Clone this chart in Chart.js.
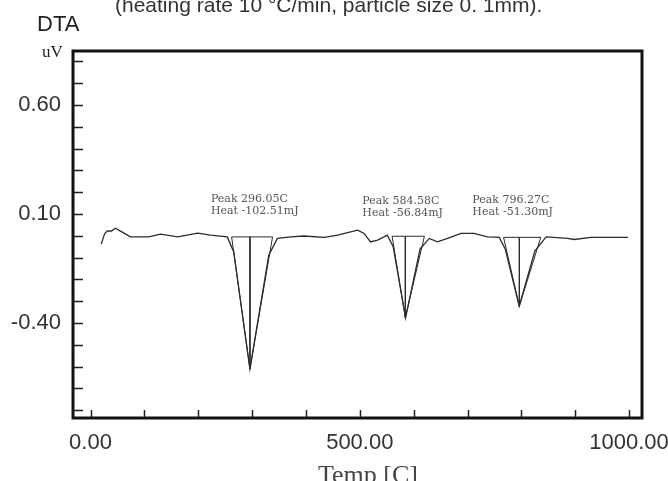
<!DOCTYPE html>
<html lang="en">

<head>
    <meta charset="UTF-8">
    <title>DTA</title>
    <script src="https://cdn.jsdelivr.net/npm/chart.js"></script>
    <style>
        body { margin: 0; background: #ffffff; }
        #box { width: 668px; height: 481px; }
    </style>
</head>

<body>
    <div id="box">
        <canvas id="grafico-dta" width="668" height="481"></canvas>
    </div>
</body>

</html>

<script>

    // DTA trace
    const tempC = [20, 26, 31, 39, 46, 59, 74, 108, 130, 162, 199, 223, 254, 266, 296, 331, 347, 372, 396, 434,
        459, 483, 496, 508, 520, 533, 545, 551, 562, 585, 612, 629, 644, 663, 688, 712, 737, 759, 770, 796,
        825, 846, 886, 898, 929, 998];
    const dta = [-0.038, 0.008, 0.023, 0.022, 0.035, 0.017, -0.005, -0.005, 0.008, -0.005, 0.012, 0.003, -0.005, -0.074, -0.611, -0.089, -0.012, -0.005, -0.001, -0.007,
        0.003, 0.018, 0.026, 0.011, -0.028, -0.020, -0.005, 0.003, -0.050, -0.376, -0.060, -0.012, -0.028, -0.012, 0.011, 0.011, -0.005, -0.007, -0.060, -0.323,
        -0.070, -0.005, -0.012, -0.017, -0.007, -0.007];

    // peaks found by the analysis
    const peakTemp = [296.05, 584.58, 796.27];
    const peakHeat = [-102.51, -56.84, -51.30];
    const peakMin = [-0.611, -0.376, -0.323];
    const peakStart = [262, 560, 767];
    const peakEnd = [338, 620, 836];
    const peakBase = [-0.005, -0.002, -0.007];

    // axes
    const xTicks = [0, 100, 200, 300, 400, 500, 600, 700, 800, 900, 1000];
    const xLabels = [0, 500, 1000];
    const yTicks = [-0.8, -0.7, -0.6, -0.5, -0.4, -0.3, -0.2, -0.1, 0, 0.1, 0.2, 0.3, 0.4, 0.5, 0.6, 0.7, 0.8];
    const yLabels = [0.6, 0.1, -0.4];

    const corLinha = '#2b2b2b';
    const labelDx = [-39, -43, -47];
    const labelDy = [-38, -35, -37];

    let datasets = [{
        label: 'DTA',
        data: tempC.map((t, i) => ({ x: t, y: dta[i] })),
        borderColor: corLinha,
        borderWidth: 1.3,
        pointRadius: 0,
        tension: 0
    }];

    // integration lines for each peak
    peakTemp.forEach((t, i) => {
        datasets.push({
            label: 'area ' + i,
            data: [
                { x: peakStart[i], y: peakBase[i] },
                { x: t, y: peakMin[i] },
                { x: peakEnd[i], y: peakBase[i] },
                { x: peakStart[i], y: peakBase[i] }
            ],
            borderColor: corLinha,
            borderWidth: 1,
            pointRadius: 0,
            tension: 0
        });
        datasets.push({
            label: 'peak ' + i,
            data: [{ x: t, y: peakBase[i] }, { x: t, y: peakMin[i] }],
            borderColor: corLinha,
            borderWidth: 1,
            pointRadius: 0
        });
    });

    const perto = (a, lista) => lista.some(v => Math.abs(v - a) < 1e-6);

    // frame, inward tick marks and the loose texts
    const moldura = {
        id: 'moldura',
        afterDraw(chart) {
            const ctx = chart.ctx;
            const a = chart.chartArea;
            const xs = chart.scales.x;
            const ys = chart.scales.y;
            ctx.save();

            ctx.strokeStyle = '#222';
            ctx.lineWidth = 1.5;
            ctx.beginPath();
            yTicks.forEach(v => {
                const y = Math.round(ys.getPixelForValue(v)) + 0.5;
                ctx.moveTo(a.left, y);
                ctx.lineTo(a.left + 10, y);
            });
            xTicks.forEach(v => {
                const x = Math.round(xs.getPixelForValue(v)) + 0.5;
                ctx.moveTo(x, a.bottom);
                ctx.lineTo(x, a.bottom - 8);
            });
            ctx.stroke();

            ctx.strokeStyle = '#111';
            ctx.lineWidth = 3;
            ctx.strokeRect(a.left, a.top, a.right - a.left, a.bottom - a.top);

            // peak notes
            ctx.fillStyle = '#555';
            ctx.font = '11px "DejaVu Serif"';
            ctx.textBaseline = 'middle';
            ctx.textAlign = 'left';
            peakTemp.forEach((t, i) => {
                const x = xs.getPixelForValue(t) + labelDx[i];
                const y = ys.getPixelForValue(peakBase[i]) + labelDy[i];
                ctx.fillText('Peak ' + t.toFixed(2) + 'C', x, y);
                ctx.fillText('Heat ' + peakHeat[i].toFixed(2) + 'mJ', x, y + 12);
            });

            ctx.fillStyle = '#222';
            ctx.font = '22px "Liberation Sans"';
            ctx.textBaseline = 'alphabetic';
            ctx.fillText('DTA', 37, 31);
            ctx.font = '17px "Liberation Serif"';
            ctx.fillText('uV', 42, 57);

            ctx.fillStyle = '#333';
            ctx.font = '21px "Liberation Sans"';
            ctx.fillText('(heating rate 10 °C/min, particle size 0. 1mm).', 115, 12);

            // axis title
            ctx.fillStyle = '#444';
            ctx.font = '26px "Liberation Serif"';
            ctx.textAlign = 'center';
            ctx.fillText('Temp [C]', 368, 483);
            ctx.restore();
        }
    };

    new Chart(document.getElementById('grafico-dta'), {
        type: 'line',
        data: { datasets: datasets },
        options: {
            responsive: false,
            animation: false,
            layout: { padding: { left: 0, top: 51, right: 26, bottom: 0 } },
            plugins: {
                legend: { display: false },
                tooltip: { enabled: false }
            },
            scales: {
                x: {
                    type: 'linear',
                    min: -32.5,
                    max: 1024,
                    grid: { display: false, drawTicks: false },
                    border: { display: false },
                    afterBuildTicks: s => { s.ticks = xTicks.map(v => ({ value: v })); },
                    afterFit: s => { s.height = 63; s.paddingLeft = 0; s.paddingRight = 0; },
                    ticks: {
                        autoSkip: false,
                        maxRotation: 0,
                        padding: 12,
                        color: '#333',
                        font: { family: 'Liberation Sans', size: 22 },
                        callback: v => perto(v, xLabels) ? v.toFixed(2) : ''
                    }
                },
                y: {
                    min: -0.836,
                    max: 0.848,
                    grid: { display: false, drawTicks: false },
                    border: { display: false },
                    afterBuildTicks: s => { s.ticks = yTicks.map(v => ({ value: v })); },
                    afterFit: s => { s.width = 73; s.paddingTop = 0; s.paddingBottom = 0; },
                    ticks: {
                        autoSkip: false,
                        padding: 12,
                        color: '#333',
                        font: { family: 'Liberation Sans', size: 22 },
                        callback: v => perto(v, yLabels) ? v.toFixed(2) : ''
                    }
                }
            }
        },
        plugins: [moldura]
    });

</script>
